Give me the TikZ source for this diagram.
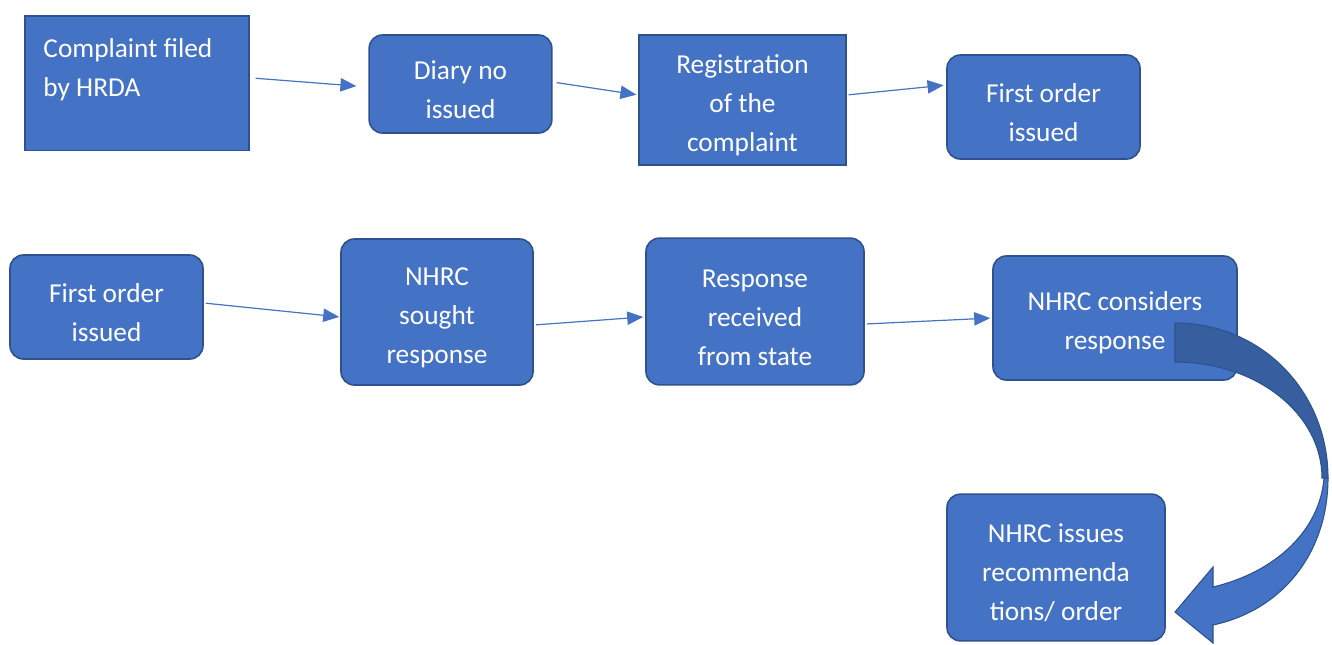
\documentclass[tikz,border=0pt]{standalone}
\usepackage{fontspec}
\setmainfont{Carlito}
\usetikzlibrary{arrows.meta}
\definecolor{boxfill}{HTML}{4472C4}
\definecolor{boxline}{HTML}{2F528F}
\definecolor{bandshade}{HTML}{375FA0}

\begin{document}
\begin{tikzpicture}[x=0.75pt, y=-0.75pt,
  every node/.style={rectangle, fill=boxfill, draw=boxline, line width=1.2pt, text=white, font=\fontsize{20.5}{29.25}\selectfont, text width=120pt, align=flush center, execute at begin node=\rule{0pt}{22pt}},
  sqbox/.style={rounded corners=0pt},
  rbox/.style={rounded corners=10pt},
  link/.style={draw=boxfill, line width=0.9pt, -{Triangle[length=12pt,width=10pt]}}]
			\useasboundingbox (0,0) rectangle (1332,644);

			% top row
			\node[sqbox, anchor=north west, text width=140pt, align=flush left, inner xsep=14pt, inner ysep=9pt, text depth=61pt] (complaint) at (24,15){Complaint filed\\by HRDA};
			\node[rbox, minimum width=137pt, minimum height=73.5pt] (diary) at (460.5,84){Diary no\\issued};
			\node[sqbox, minimum width=155pt, minimum height=97.5pt] (reg) at (742.5,100){Registration\\of the\\complaint};
			\node[rbox, minimum width=144.75pt, minimum height=78pt] (first) at (1043.5,107){First order\\issued};

			% second row
			\node[rbox, minimum width=144.75pt, minimum height=78pt] (firstb) at (106.5,307){First order\\issued};
			\node[rbox, minimum width=144pt, minimum height=109.5pt] (sought) at (437,312){NHRC\\sought\\response};
			\node[rbox, minimum width=163.5pt, minimum height=110pt] (resp) at (755,311.5){Response\\received\\from state};
			\node[rbox, text width=160pt, minimum width=183pt, minimum height=93pt] (cons) at (1115,318){NHRC considers\\response};
			\node[rbox, minimum width=163.5pt, minimum height=110pt] (issues) at (1056,567.5){NHRC issues\\recommenda\\tions/ order};

			\draw[link, shorten <=4.5pt, shorten >=9pt] ([yshift=4pt]complaint.east) -- ([yshift=-2.25pt]diary.west);
			\draw[link, shorten <=3pt, shorten >=1.5pt] ([yshift=1.5pt]diary.east) -- ([yshift=3.75pt]reg.west);
			\draw[link, shorten <=1.5pt, shorten >=2pt] ([yshift=3.75pt]reg.east) -- ([yshift=16.5pt]first.west);
			\draw[link, shorten <=1.5pt, shorten >=0.75pt] ([yshift=3pt]firstb.east) -- ([yshift=-3.75pt]sought.west);
			\draw[link, shorten <=1.5pt, shorten >=1.5pt] ([yshift=-9.75pt]sought.east) -- ([yshift=-4pt]resp.west);
			\draw[link, shorten <=1.5pt, shorten >=1.5pt] ([yshift=-9.4pt]resp.east) -- (cons.west);

			% curved block arrow
			\filldraw[fill=bandshade, draw=boxline, line width=0.8pt] (1175,323) .. controls (1262,323) and (1328,392) .. (1328,478) -- (1322,478) .. controls (1322,415) and (1258,362) .. (1175,362) -- cycle;
			\filldraw[fill=boxfill, draw=boxline, line width=0.8pt] (1328,478) .. controls (1328,552) and (1283,610) .. (1213,625) -- (1213,643) -- (1175,612) -- (1213,567) -- (1213,587) .. controls (1276,572) and (1320,530) .. (1324,478) -- cycle;
\end{tikzpicture}
\end{document}
